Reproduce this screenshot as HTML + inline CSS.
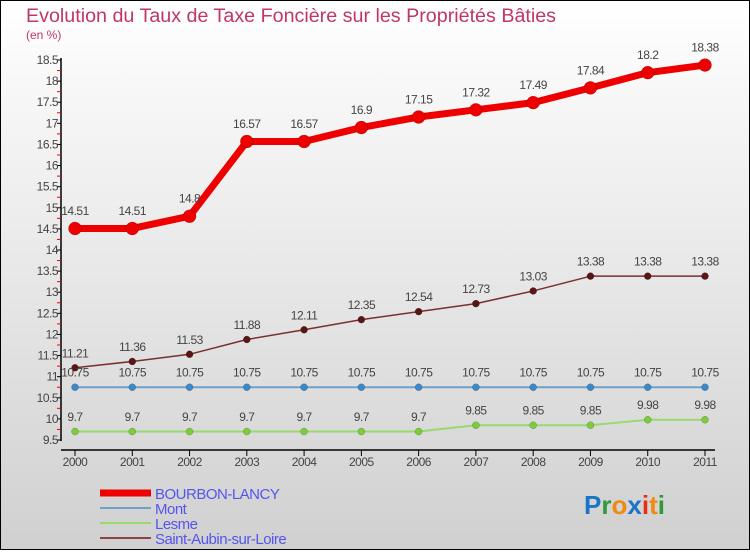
<!DOCTYPE html>
<html><head><meta charset="utf-8"><style>
html,body{margin:0;padding:0}
body{width:750px;height:550px;overflow:hidden;font-family:"Liberation Sans",sans-serif}
</style></head><body>
<svg id="chart" width="750" height="550" xmlns="http://www.w3.org/2000/svg" font-family="Liberation Sans, sans-serif">
<defs><linearGradient id="bg" x1="0" y1="0" x2="0" y2="1"><stop offset="0" stop-color="#ffffff"/><stop offset="1" stop-color="#d0d0d0"/></linearGradient></defs>
<rect x="0.5" y="0.5" width="749" height="549" fill="url(#bg)" stroke="#000"/>
<text x="26" y="22" font-size="19.7" fill="#c0356a">Evolution du Taux de Taxe Foncière sur les Propriétés Bâties</text>
<text x="26" y="39" font-size="12" fill="#c0356a">(en %)</text>
<g id="axes"></g>
<g id="series"></g>
<g id="legend"></g>
<text x="584" y="514" font-size="26" font-weight="bold"><tspan fill="#1a74c8">P</tspan><tspan fill="#2e9a3a">r</tspan><tspan fill="#f08a10">o</tspan><tspan fill="#1a74c8">x</tspan><tspan fill="#e83010">i</tspan><tspan fill="#f08a10">t</tspan><tspan fill="#2e9a3a">i</tspan></text>
</svg>
<script>
const years=[2000,2001,2002,2003,2004,2005,2006,2007,2008,2009,2010,2011];
const bourbon=[14.51,14.51,14.8,16.57,16.57,16.9,17.15,17.32,17.49,17.84,18.2,18.38];
const mont=[10.75,10.75,10.75,10.75,10.75,10.75,10.75,10.75,10.75,10.75,10.75,10.75];
const lesme=[9.7,9.7,9.7,9.7,9.7,9.7,9.7,9.85,9.85,9.85,9.98,9.98];
const saint=[11.21,11.36,11.53,11.88,12.11,12.35,12.54,12.73,13.03,13.38,13.38,13.38];
const yTicks=[9.5,10,10.5,11,11.5,12,12.5,13,13.5,14,14.5,15,15.5,16,16.5,17,17.5,18,18.5];
const NS="http://www.w3.org/2000/svg";
const x=i=>75+i*(630/11);
const y=v=>60+(18.5-v)*(380/9);
function mk(tag,attrs,parent){const e=document.createElementNS(NS,tag);for(const k in attrs)e.setAttribute(k,attrs[k]);parent.appendChild(e);return e;}
const axes=document.getElementById('axes');
let a=mk('line',{x1:61,y1:58,x2:61,y2:441,stroke:'#000','stroke-width':1.5},axes);


a=mk('line',{x1:61,y1:450,x2:715,y2:450,stroke:'#000','stroke-width':1.5},axes);


yTicks.forEach((t,i)=>{
  mk('line',{x1:57,y1:y(t),x2:61,y2:y(t),stroke:'#000'},axes);
  if(i<yTicks.length-1) mk('line',{x1:57,y1:y(t+0.25),x2:61,y2:y(t+0.25),stroke:'#e00'},axes);
  const tx=mk('text',{x:58,y:y(t)+4,'font-size':12,fill:'#444','text-anchor':'end','letter-spacing':'-0.5'},axes);
  tx.textContent=t;
  
  
});
years.forEach((yr,i)=>{
  mk('line',{x1:x(i),y1:450,x2:x(i),y2:456,stroke:'#000'},axes);
  const tx=mk('text',{x:x(i),y:466,'font-size':12,fill:'#444','text-anchor':'middle','letter-spacing':'-0.5'},axes);
  tx.textContent=yr;
  
  
});
const series=[
 {name:'saint-aubin',data:saint,color:'#7a3030',pt:'#5a1515',w:1.5,r:3.5},
 {name:'lesme',data:lesme,color:'#9ad870',pt:'#7ccc3c',w:2,r:3.5},
 {name:'mont',data:mont,color:'#70a0c8',pt:'#3f88c8',w:2,r:3.5},
 {name:'bourbon-lancy',data:bourbon,color:'#ee0000',pt:'#ee0000',w:7,r:6.5}
];
const sg=document.getElementById('series');
series.forEach(s=>{
  const g=mk('g',{},sg);
  
  
  const pts=s.data.map((v,i)=>x(i)+','+y(v)).join(' ');
  const pl=mk('polyline',{points:pts,fill:'none',stroke:s.color,'stroke-width':s.w,'stroke-linejoin':'round'},g);
  
  
  s.data.forEach((v,i)=>{
    const c=mk('circle',{cx:x(i),cy:y(v),r:s.r,fill:s.pt,stroke:'rgba(0,0,0,0.3)','stroke-width':0.5},g);
    
    
    const t=mk('text',{x:x(i),y:y(v)-(s.r+7),'font-size':12,fill:'#444','text-anchor':'middle','letter-spacing':'-0.5'},g);
    t.textContent=v;
    
    
  });
});
const lg=document.getElementById('legend');
const leg=[['BOURBON-LANCY','#ee0000',7],['Mont','#70a0c8',2],['Lesme','#9ad870',2],['Saint-Aubin-sur-Loire','#8a4545',2]];
leg.forEach((l,i)=>{
  const yy=493+i*15;
  const ln=mk('line',{x1:100,y1:yy,x2:151,y2:yy,stroke:l[1],'stroke-width':l[2]},lg);
  
  
  const t=mk('text',{x:155,y:yy+6,'font-size':15,fill:'#5555ee','letter-spacing':'-0.5'},lg);
  t.textContent=l[0];
  
  
});
</script>
</body></html>
